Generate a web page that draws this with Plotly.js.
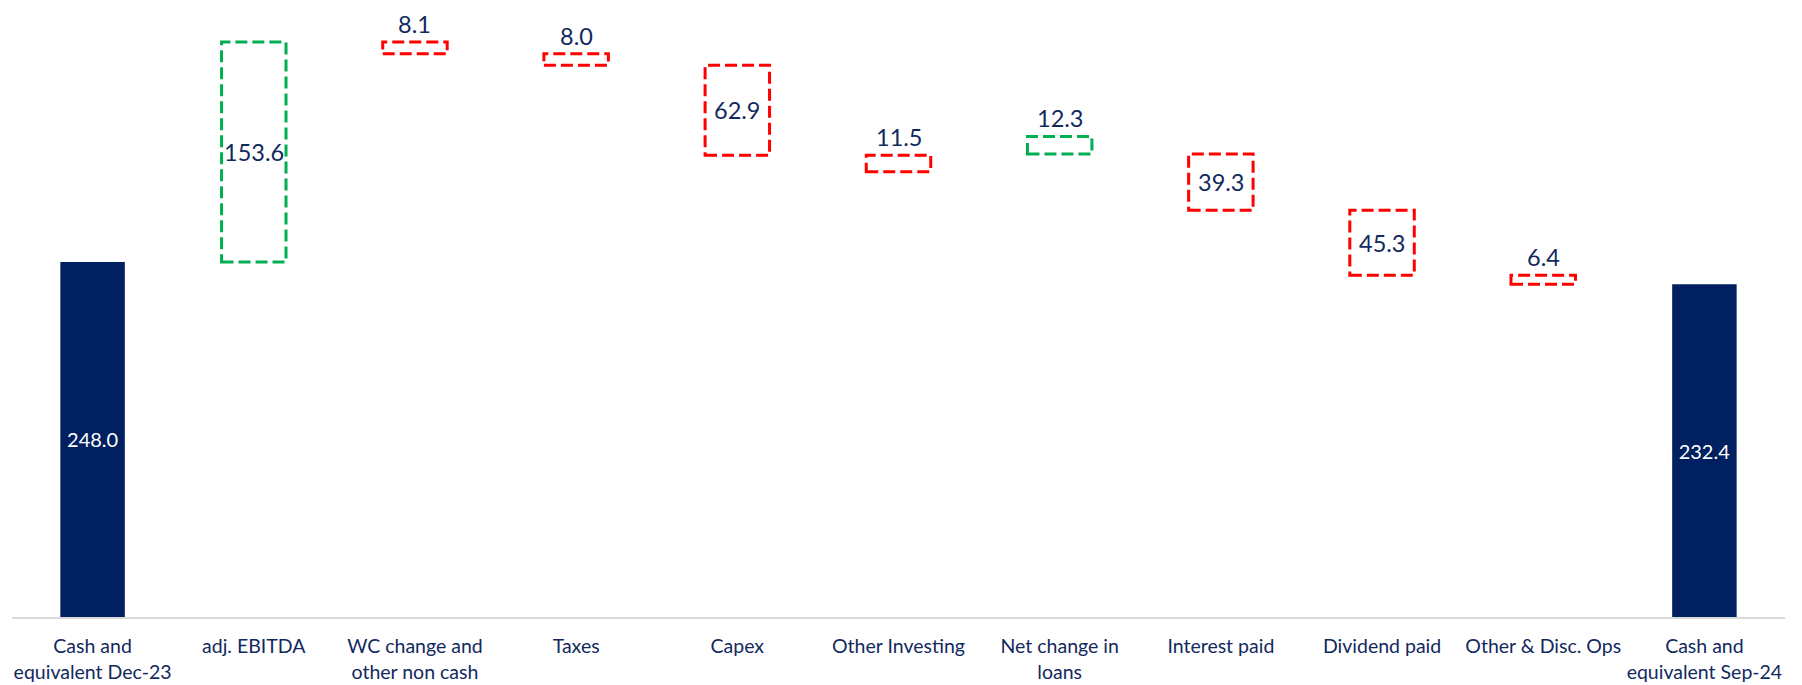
<!DOCTYPE html>
<html>
<head>
<meta charset="utf-8">
<script src="https://cdn.plot.ly/plotly-3.0.1.min.js"></script>
<style>html,body{margin:0;padding:0;background:#fff;}#chart{width:1802px;height:685px;}</style>
</head>
<body>
<div id="chart"></div>
<script>
const categories = ["Cash and<br>equivalent Dec-23", "adj. EBITDA", "WC change and<br>other non cash", "Taxes", "Capex", "Other Investing", "Net change in<br>loans", "Interest paid", "Dividend paid", "Other & Disc. Ops", "Cash and<br>equivalent Sep-24"];
const values = [248.0, 153.6, -8.1, -8.0, -62.9, -11.5, 12.3, -39.3, -45.3, -6.4, 232.4];
const kinds = ["total", "change", "change", "change", "change", "change", "change", "change", "change", "change", "total"];
// bottom of each floating box as drawn in the picture
const boxBase = [null, 248.0, 393.5, 385.5, 322.6, 311.1, 323.4, 284.1, 238.8, 232.4, null];

const NAVY = "#002060", TEXT = "#12295e", RED = "#ff0000", GREEN = "#00b050";
const FONT = "Lato, 'Open Sans', sans-serif";
const BW = 0.4;

const idx = categories.map((_, i) => i);
const totX = [], totY = [], totT = [];
const shapes = [], annotations = [];
values.forEach((v, i) => {
  if (kinds[i] === "total") {
    totX.push(i); totY.push(v); totT.push(v.toFixed(1));
  } else {
    const lo = boxBase[i], hi = boxBase[i] + Math.abs(v);
    shapes.push({type: "rect", xref: "x", yref: "y", x0: i - BW / 2, x1: i + BW / 2, y0: lo, y1: hi,
      line: {color: v >= 0 ? GREEN : RED, width: 3, dash: "12px,5px"}, fillcolor: "rgba(0,0,0,0)"});
    const inside = Math.abs(v) > 20;
    annotations.push({x: i, y: inside ? (lo + hi) / 2 : hi, xref: "x", yref: "y",
      text: Math.abs(v).toFixed(1), showarrow: false,
      yanchor: inside ? "middle" : "bottom", yshift: inside ? 0 : 2,
      font: {family: FONT, size: 23.5, color: TEXT}});
  }
});

const data = [{
  type: "bar", x: totX, y: totY, text: totT, width: BW,
  marker: {color: NAVY}, textposition: "inside", insidetextanchor: "middle",
  textfont: {family: FONT, size: 20, color: "#ffffff"}, hoverinfo: "skip"
}];

const layout = {
  width: 1802, height: 685,
  margin: {l: 12, r: 17, t: 0, b: 68},
  paper_bgcolor: "#ffffff", plot_bgcolor: "#ffffff",
  showlegend: false,
  xaxis: {
    range: [-0.5, categories.length - 0.5], tickmode: "array", tickvals: idx, ticktext: categories,
    showline: true, linecolor: "#d9d9d9", linewidth: 2, showgrid: false, zeroline: false,
    ticks: "outside", ticklen: 11, tickcolor: "rgba(0,0,0,0)",
    tickfont: {family: FONT, size: 19.5, color: TEXT}, fixedrange: true
  },
  yaxis: {range: [0, 431], visible: false, showgrid: false, zeroline: false, fixedrange: true},
  shapes: shapes, annotations: annotations
};

Plotly.newPlot("chart", data, layout, {displayModeBar: false, staticPlot: true});
</script>
</body>
</html>
